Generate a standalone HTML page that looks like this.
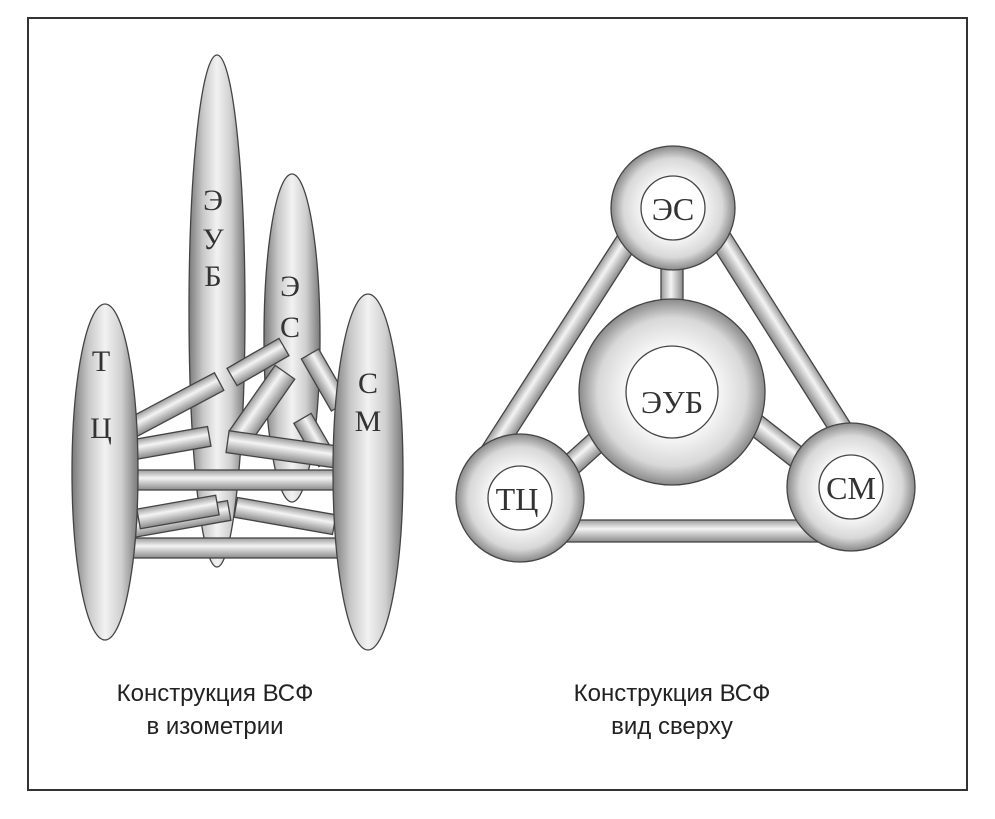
<!DOCTYPE html>
<html><head><meta charset="utf-8"><style>
html,body{margin:0;padding:0;background:#fff;}
svg{display:block}
</style></head><body>
<svg width="995" height="819" viewBox="0 0 995 819" xmlns="http://www.w3.org/2000/svg">
<defs>
<linearGradient id="cyl" x1="0" y1="0" x2="1" y2="0">
<stop offset="0" stop-color="#7a7a7a"/><stop offset="0.25" stop-color="#c8c8c8"/><stop offset="0.5" stop-color="#f2f2f2"/><stop offset="0.75" stop-color="#cfcfcf"/><stop offset="1" stop-color="#7a7a7a"/>
</linearGradient>
<linearGradient id="rod" x1="0" y1="0" x2="0" y2="1">
<stop offset="0" stop-color="#9a9a9a"/><stop offset="0.4" stop-color="#f4f4f4"/><stop offset="1" stop-color="#8a8a8a"/>
</linearGradient>
<linearGradient id="rodv" x1="0" y1="0" x2="1" y2="0">
<stop offset="0" stop-color="#9a9a9a"/><stop offset="0.45" stop-color="#f4f4f4"/><stop offset="1" stop-color="#8a8a8a"/>
</linearGradient>
<radialGradient id="sph" cx="0.5" cy="0.5" r="0.5">
<stop offset="0.5" stop-color="#f6f6f6"/><stop offset="0.8" stop-color="#d8d8d8"/><stop offset="1" stop-color="#8a8a8a"/>
</radialGradient>
</defs>
<rect x="28" y="18" width="939" height="772" fill="#fff" stroke="#333" stroke-width="2"/>

<!-- LEFT: isometric -->
<g stroke="#444" stroke-width="1.3">
<ellipse cx="217" cy="311" rx="28" ry="256" fill="url(#cyl)"/>
<ellipse cx="292" cy="338" rx="28" ry="164" fill="url(#cyl)"/>
<g fill="url(#rod)">
<rect x="-50" y="-10" width="100" height="20" transform="translate(175,405) rotate(-28)"/>
<rect x="-50" y="-10" width="100" height="20" transform="translate(160,445) rotate(-10)"/>
<rect x="-55" y="-10" width="110" height="20" transform="translate(175,520) rotate(-10)"/>
<rect x="-30" y="-10" width="60" height="20" transform="translate(258,362) rotate(-30)"/>
<rect x="-40" y="-12" width="80" height="24" transform="translate(262,405) rotate(-55)"/>
<rect x="-30" y="-10" width="60" height="20" transform="translate(325,380) rotate(60)"/>
<rect x="-25" y="-10" width="50" height="20" transform="translate(315,440) rotate(60)"/>
<rect x="-60" y="-11" width="120" height="22" transform="translate(287,450) rotate(8)"/>
<rect x="-40" y="-10" width="80" height="20" transform="translate(178,512) rotate(-10)"/>
<rect x="-50" y="-10" width="100" height="20" transform="translate(285,516) rotate(10)"/>
<rect x="130" y="470" width="210" height="20"/>
<rect x="130" y="538" width="210" height="20"/>
</g>
<ellipse cx="105" cy="472" rx="33" ry="168" fill="url(#cyl)"/>
<ellipse cx="368" cy="472" rx="35" ry="178" fill="url(#cyl)"/>
</g>
<g font-family="Liberation Serif, serif" font-size="30" fill="#333" text-anchor="middle">
<text x="213" y="210">Э</text><text x="213" y="249">У</text><text x="213" y="286">Б</text>
<text x="290" y="296">Э</text><text x="290" y="337">С</text>
<text x="101" y="371">Т</text><text x="101" y="438">Ц</text>
<text x="368" y="393">С</text><text x="368" y="431">М</text>
</g>

<!-- RIGHT: top view -->
<g stroke="#444" stroke-width="1.3" fill="url(#rod)">
<rect x="-140" y="-11" width="280" height="22" transform="translate(557,350) rotate(-57.3)"/>
<rect x="-140" y="-11" width="280" height="22" transform="translate(791,350) rotate(57.7)"/>
<rect x="520" y="520" width="330" height="22"/>
<rect x="661" y="255" width="22" height="50" fill="url(#rodv)"/>
<rect x="-50" y="-11" width="100" height="22" transform="translate(590,448) rotate(-42)"/>
<rect x="-50" y="-11" width="100" height="22" transform="translate(775,440) rotate(38)"/>
</g>
<g stroke="#444" stroke-width="1.3">
<circle cx="673" cy="208" r="62" fill="url(#sph)"/><circle cx="673" cy="208" r="32" fill="#fff"/>
<circle cx="672" cy="392" r="93" fill="url(#sph)"/><circle cx="672" cy="392" r="46" fill="#fff"/>
<circle cx="520" cy="498" r="64" fill="url(#sph)"/><circle cx="520" cy="498" r="32" fill="#fff"/>
<circle cx="851" cy="487" r="64" fill="url(#sph)"/><circle cx="851" cy="487" r="32" fill="#fff"/>
</g>
<g font-family="Liberation Serif, serif" font-size="32" fill="#333" text-anchor="middle">
<text x="673" y="220">ЭС</text><text x="672" y="413">ЭУБ</text>
<text x="517" y="510">ТЦ</text><text x="851" y="499">СМ</text>
</g>

<g font-family="Liberation Sans, sans-serif" font-size="24" fill="#222" text-anchor="middle">
<text x="215" y="701">Конструкция ВСФ</text><text x="215" y="734">в изометрии</text>
<text x="672" y="701">Конструкция ВСФ</text><text x="672" y="734">вид сверху</text>
</g>
</svg>
</body></html>
